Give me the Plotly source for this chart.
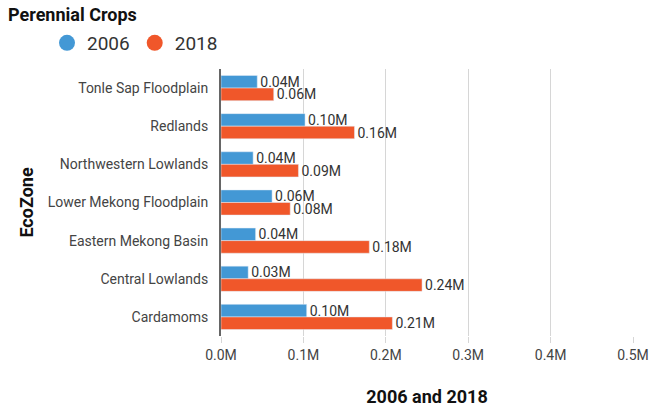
import plotly.graph_objects as go

zones = ["Tonle Sap Floodplain", "Redlands", "Northwestern Lowlands", "Lower Mekong Floodplain",
         "Eastern Mekong Basin", "Central Lowlands", "Cardamoms"]
v2006 = [0.044, 0.102, 0.039, 0.062, 0.042, 0.033, 0.104]
v2018 = [0.064, 0.162, 0.094, 0.084, 0.180, 0.244, 0.208]
xticks = [0, 0.1, 0.2, 0.3, 0.4, 0.5]
xticklabels = ["0.0M", "0.1M", "0.2M", "0.3M", "0.4M", "0.5M"]

c06 = "#4398d5"
c18 = "#f0572a"
font = "Roboto"
W, H = 649, 407

fig = go.Figure()
for name, vals, col in [("2006", v2006, c06), ("2018", v2018, c18)]:
    fig.add_trace(go.Bar(y=zones, x=vals, orientation="h", name=name, marker_color=col,
                         text=[f"{v:.2f}M" for v in vals], textposition="outside",
                         constraintext="none",
                         textfont=dict(family=font, size=14, color="#333"),
                         cliponaxis=False, showlegend=False))
for name, col in [("2006", c06), ("2018", c18)]:
    fig.add_trace(go.Scatter(x=[None], y=[None], mode="markers", name=name,
                             marker=dict(symbol="circle", size=20, color=col)))

fig.update_layout(
    width=W, height=H,
    paper_bgcolor="white", plot_bgcolor="white",
    margin=dict(l=221, r=16, t=69, b=71, autoexpand=False),
    barmode="group", bargap=0.34, bargroupgap=0,
    font=dict(family=font, color="#444"),
    title=dict(text="<b>Perennial Crops</b>", xref="container", x=0, xanchor="left",
               pad=dict(l=8), y=1-15/H, yanchor="middle",
               font=dict(family=font, size=18, color="#111")),
    legend=dict(orientation="h", xref="container", yref="container", x=47/W, y=1-43/H,
                xanchor="left", yanchor="middle", font=dict(family=font, size=19, color="#333"),
                itemsizing="trace"),
    xaxis=dict(range=[0, 0.5], tickvals=xticks, ticktext=xticklabels, showgrid=True,
               gridcolor="#d6d6d6", gridwidth=1, zeroline=False, ticks="outside", ticklen=6,
               tickcolor="#d6d6d6", tickfont=dict(family=font, size=14, color="#444"),
               automargin=False,
               title=dict(text="<b>2006 and 2018</b>", font=dict(family=font, size=18, color="#111"),
                          standoff=28)),
    yaxis=dict(autorange="reversed", showline=True, linecolor="#666", linewidth=2,
               tickfont=dict(family=font, size=14, color="#444"), ticks="", ticklabelstandoff=8,
               automargin=False,
               title=dict(text="<b>EcoZone</b>", font=dict(family=font, size=18, color="#111"),
                          standoff=9)),
)
fig.write_html("out.html", config={"displayModeBar": False},
               post_script="document.body.style.margin='0';document.body.style.overflow='hidden';")
